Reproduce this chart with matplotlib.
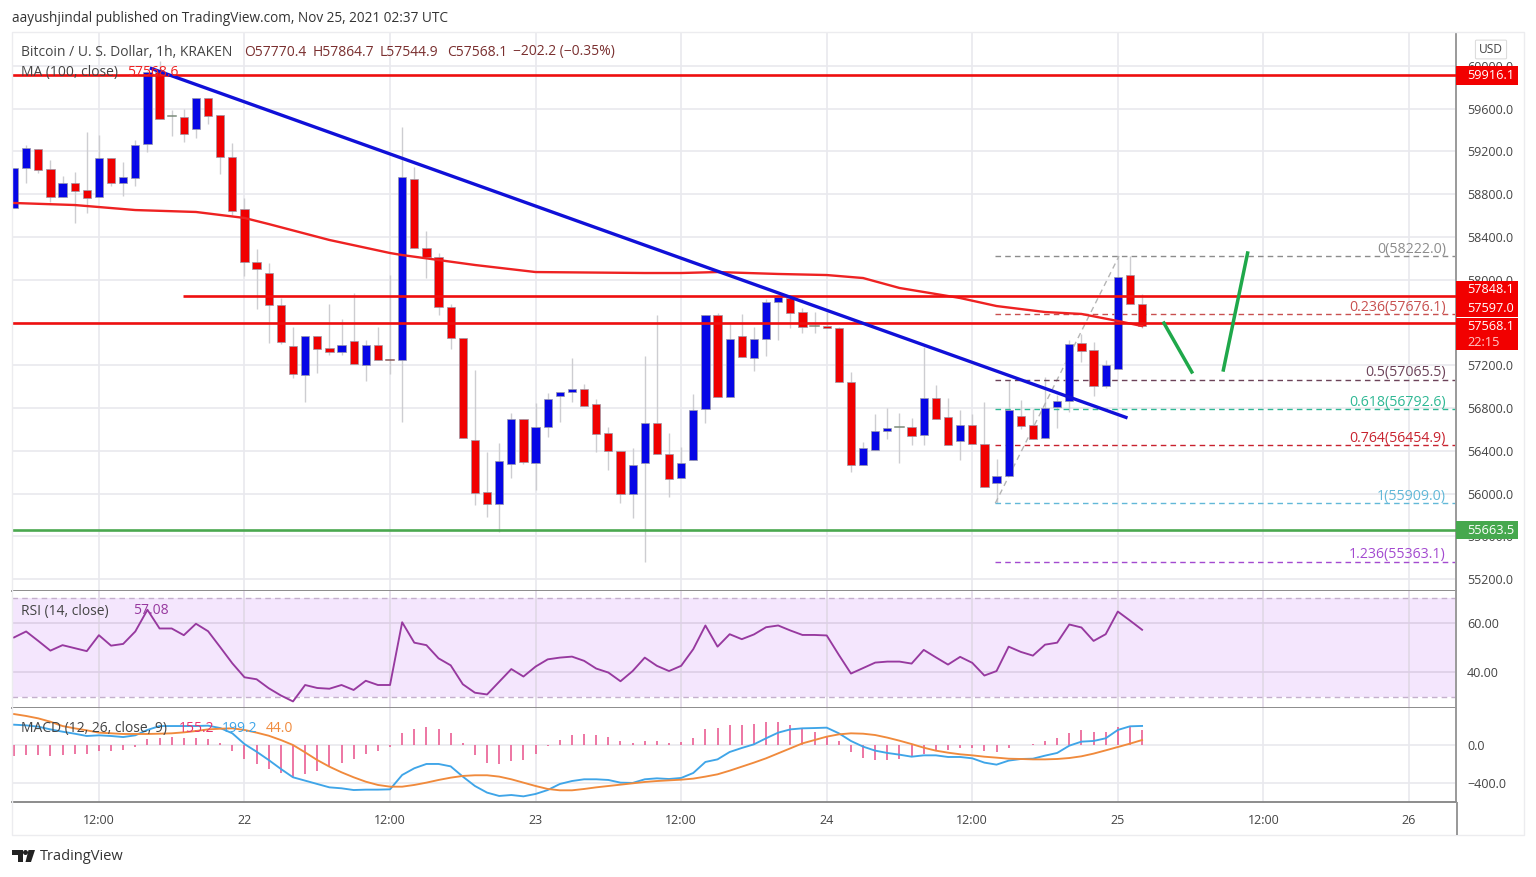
import matplotlib
matplotlib.use("Agg")
import matplotlib.pyplot as plt
from matplotlib.patches import Rectangle, FancyBboxPatch, Ellipse, Polygon
from matplotlib.transforms import blended_transform_factory

# ---------- data ----------
opens = [58674,59045,59223,59033,58777,58905,58840,58771,59142,58908,58955,59273,59946,59530,59525,59410,59700,59538,59148,58659,
         58169,58063,57761,57380,57106,57477,57359,57324,57430,57202,57392,57250,57246,58942,58300,58210,57748,57458,56501,56014,
         55905,56273,56700,56288,56620,56912,56950,56981,56840,56569,56398,55998,56288,56657,56370,56145,56311,56788,57667,56906,
         57474,57265,57446,57792,57829,57695,57570,57570,57549,57046,56264,56410,56582,56620,56620,56545,56897,56716,56494,56641,
         56463,56101,56164,56728,56641,56517,56809,56863,57405,57343,57009,57165,58042,57770]
closes = [59048,59230,59029,58777,58905,58830,58767,59142,58908,58958,59258,59946,59507,59525,59366,59700,59535,59148,58646,58166,
          58098,57761,57420,57121,57477,57355,57324,57392,57209,57392,57246,57245,58964,58297,58213,57748,57458,56517,56008,55905,
          56302,56700,56295,56620,56884,56950,56981,56819,56554,56398,55998,56264,56657,56370,56139,56288,56781,57667,56906,57446,
          57274,57446,57792,57836,57692,57561,57560,57546,57046,56270,56429,56588,56613,56612,56541,56891,56700,56457,56641,56463,
          56064,56161,56781,56632,56513,56803,56863,57399,57333,57009,57202,58028,57770,57568]
highs = [59048,59261,59223,59120,58973,59011,59379,59354,59142,59104,59307,59950,60049,59588,59595,59700,59700,59538,59282,58762,
         58288,58154,57829,57561,57477,57477,57773,57630,57873,57436,57561,58044,59429,59058,58456,58247,57773,57458,57156,56391,
         56476,56753,56700,56847,56943,56950,57271,57022,56881,56620,56398,56423,57289,57670,56569,56438,56931,57667,57689,57608,
         57680,57561,57817,57836,57860,57736,57701,57701,57560,57140,56485,56741,56797,56751,56709,57374,57015,56897,56781,56741,
         56859,56320,57062,56875,56788,57093,56922,57436,57492,57420,57249,58216,58222,57864]
lows = [58674,58908,59000,58730,58777,58534,58622,58771,58880,58786,58880,59198,59507,59345,59286,59323,59454,58992,58606,58038,
        57729,57405,57400,57078,56853,57130,57300,57296,57209,57056,57246,57118,56672,58297,58019,57670,57352,56517,55893,55783,
        55643,56142,56280,56033,56526,56672,56853,56819,56386,56220,55909,55768,55362,56370,55970,56145,56311,56657,56906,56906,
        57274,57149,57289,57436,57549,57502,57499,57546,57046,56204,56264,56410,56507,56283,56454,56454,56700,56457,56314,56463,
        56064,55909,56164,56601,56513,56517,56610,56766,57233,56915,56987,57165,57770,57544]

ma_idx = [0,5,10,15,19,21,26,31,32,38,43,52,55,58,63,67,70,73,78,81,85,88,91,93]
ma_vals = [58718,58699,58652,58634,58578,58521,58372,58250,58231,58138,58072,58063,58063,58072,58054,58044,58016,57923,57829,57754,57698,57680,57614,57567]

rsi_vals = [54.0,56.4,52.6,48.7,50.9,49.7,48.5,54.9,50.7,51.4,56.4,65.1,57.6,57.6,54.9,59.5,56.5,50.1,43.6,38.0,
            37.2,33.6,30.7,28.3,34.9,33.7,33.4,34.9,32.9,36.6,34.9,34.9,60.1,51.9,50.9,45.6,42.8,35.2,31.8,31.1,
            36.2,41.3,38.3,42.3,45.2,45.9,46.3,44.6,41.5,39.9,36.4,40.5,45.9,42.6,40.5,42.6,49.3,58.8,50.3,55.3,
            53.3,55.2,58.1,58.8,56.8,55.0,55.0,54.8,47.0,39.5,41.7,43.9,44.3,44.3,43.5,49.0,46.0,43.1,46.2,43.8,
            38.7,40.5,50.3,48.2,46.7,51.1,51.9,59.2,58.0,52.6,55.3,64.4,60.8,57.08]

macd_vals = [212,205,191,163,139,118,94,101,94,83,101,157,198,198,198,198,202,177,122,10,
             -70,-157,-250,-337,-372,-407,-442,-452,-470,-466,-466,-463,-313,-243,-198,-198,-223,-330,-428,-497,
             -532,-522,-536,-511,-470,-407,-376,-358,-358,-365,-393,-396,-358,-348,-355,-344,-292,-177,-150,-73,
             -31,7,70,129,163,174,177,181,122,42,-17,-59,-83,-101,-122,-108,-108,-125,-125,-139,
             -184,-205,-163,-146,-143,-111,-83,-7,35,42,70,157,195,199]
signal_vals = [323,303,278,243,198,174,153,129,122,115,115,115,118,122,132,146,163,170,174,157,
               129,97,52,0,-77,-157,-226,-285,-337,-383,-417,-435,-435,-417,-393,-365,-341,-323,-316,-316,
               -330,-358,-393,-428,-459,-473,-473,-459,-442,-428,-414,-400,-386,-376,-369,-362,-351,-330,-306,-268,
               -226,-184,-139,-87,-35,17,52,87,111,122,118,104,77,45,10,-28,-59,-80,-97,-108,
               -122,-132,-143,-146,-150,-150,-146,-136,-118,-90,-56,-21,14,52]
hist_vals = [-111,-104,-104,-111,-104,-94,-94,-63,-63,-52,-24,63,77,80,73,73,63,17,-63,-146,
             -202,-250,-292,-337,-306,-271,-230,-184,-143,-94,-59,-24,122,167,191,170,129,17,-104,-184,
             -198,-163,-157,-94,-14,52,101,118,104,80,38,21,38,38,17,31,70,167,177,209,
             209,219,237,237,209,167,136,97,42,-77,-132,-157,-157,-150,-122,-94,-63,-52,-35,-35,
             -59,-70,-28,-3,10,45,70,129,153,136,136,184,191,155]

h_levels = [59916.1, 57848.1, 57597.0]
h_starts = [-0.165, 13.9, -0.165]
support_level = 55663.5
trend_x = [11.2, 91.8]
trend_y = [59981, 56707]
arrow1_x = [94.8, 97.1]
arrow1_y = [57595, 57137]
arrow2_x = [99.7, 101.7]
arrow2_y = [57156, 58250]
fib_levels = [58222.0, 57676.1, 57065.5, 56792.6, 56454.9, 55909.0, 55363.1]
fib_names = ["0", "0.236", "0.5", "0.618", "0.764", "1", "1.236"]
fib_colors = ["#8c8c8c", "#c8504f", "#6b4258", "#2fb894", "#c8222e", "#62b8d8", "#a34ad0"]
fib_diag_x = [80.9, 91.1]
fib_diag_y = [55909, 58222]
time_ticks = [7, 19, 31, 43, 55, 67, 79, 91, 103, 115]
time_labels = ["12:00", "22", "12:00", "23", "12:00", "24", "12:00", "25", "12:00", "26"]
price_ticks = [55200 + 400 * i for i in range(13)]

# ---------- layout ----------
W, H = 1536, 877
plt.rcParams['font.family'] = ['Open Sans', 'DejaVu Sans']
fig = plt.figure(figsize=(W / 100, H / 100), dpi=100, facecolor='white')

def pane(t, b, l=12, r=1456):
    return fig.add_axes([l / W, 1 - b / H, (r - l) / W, (b - t) / H])

def py(y):
    return 60617 - y * 9.355

ax = pane(33, 591)
ar = pane(591, 708.3)
am = pane(708.3, 802)
XL = (-0.165, 118.88)
GRID = '#e9e9ee'
TXT = '#444444'
for a in (ax, ar, am):
    a.set_xlim(*XL)
    a.set_xticks(time_ticks)
    a.grid(True, color=GRID, lw=1.2, zorder=0)
    a.set_axisbelow(True)
    a.yaxis.tick_right()
    a.tick_params(length=0, labelsize=9, labelcolor=TXT, pad=8)
    for s in a.spines.values():
        s.set_visible(False)
    a.spines['right'].set_visible(True)
    a.spines['right'].set_color('#9a9a9a')
    a.spines['right'].set_linewidth(1.4)
    a.spines['bottom'].set_visible(True)
    a.spines['bottom'].set_color('#8c8c8c')
    a.spines['bottom'].set_linewidth(1.4)

# main pane
ax.set_ylim(py(591), py(33))
ax.set_yticks(price_ticks)
ax.set_yticklabels(["" if p == 57600 else f"{p:.1f}" for p in price_ticks])
ax.tick_params(labelbottom=False)

BLUE, RED = '#0606e6', '#f00000'
for i, (o, c, hi, lo) in enumerate(zip(opens, closes, highs, lows)):
    ax.plot([i, i], [lo, hi], color='#cdcdd1', lw=1.0, zorder=2, solid_capstyle='butt')
    col = BLUE if c >= o else RED
    if abs(c - o) < 15:
        ax.plot([i - 0.34, i + 0.34], [o, o], color='#7a8a7a' if i != 31 else '#8a5a5a', lw=1.1, zorder=3)
    else:
        ax.bar(i, abs(c - o), bottom=min(o, c), width=0.68, color=col, edgecolor='#9a9aa8', linewidth=0.5, zorder=3)

ax.plot(ma_idx, ma_vals, color='#ee2222', lw=1.7, zorder=4)

for lv, st in zip(h_levels, h_starts):
    ax.plot([st, XL[1]], [lv, lv], color='#ee0f0f', lw=1.9, zorder=5, solid_capstyle='butt')
ax.axhline(support_level, color='#4aa84f', lw=1.9, zorder=5)
ax.plot(trend_x, trend_y, color='#1010d8', lw=2.4, zorder=6, solid_capstyle='butt')
ax.plot(arrow1_x, arrow1_y, color='#1fa84a', lw=2.5, zorder=6)
ax.plot(arrow2_x, arrow2_y, color='#1fa84a', lw=2.5, zorder=6)

ax.plot(fib_diag_x, fib_diag_y, color='#b5b5b5', lw=1, ls=(0, (4, 3)), zorder=2.5)
for name, lv, col in zip(fib_names, fib_levels, fib_colors):
    ax.plot([80.9, 118.8], [lv, lv], color=col, lw=1, ls=(0, (4, 3)), zorder=2.5)
    ax.annotate(f"{name}({lv:.1f})", xy=(118.05, lv), xytext=(0, -0.5), textcoords='offset points',
                ha='right', va='bottom', fontsize=10.2, color=col, zorder=7)

# price tags
tr = blended_transform_factory(ax.transAxes, ax.transData)
def tag(p_top, p_bot, col):
    ax.add_patch(FancyBboxPatch((1.0, p_bot), 62 / 1444, p_top - p_bot, transform=tr, facecolor=col,
                                edgecolor='none', clip_on=False, zorder=8,
                                boxstyle="square,pad=0"))
def tag_text(p, s, col='white'):
    ax.text(1 + 11 / 1444, p, s, transform=tr, color=col, fontsize=9.2, va='center', ha='left',
            clip_on=False, zorder=9, fontweight='medium')

tag(py(66), py(84.5), '#f20000')
tag_text(py(75.5), "59916.1")
tag(py(280.5), py(316.5), '#f20000')
tag_text(py(289.5), "57848.1")
tag_text(py(308), "57597.0")
tag(py(318), py(350), '#f20000')
tag_text(py(326.5), "57568.1")
tag_text(py(342), "22:15", col='#ffc8c8')
tag(py(521), py(539), '#46a84e')
tag_text(py(530.5), "55663.5")

# RSI pane
ar.set_ylim(60 - (708.3 - 622.5) / 2.49, 60 + (622.5 - 591) / 2.49)
ar.axhspan(30, 70, color='#f4e6fd', zorder=0.5, lw=0)
for v in (30, 70):
    ar.axhline(v, color='#c4b0cc', lw=1, ls=(0, (4, 3)), zorder=1)
ar.set_yticks([40, 60])
ar.set_yticklabels(["40.00", "60.00"])
ar.grid(True, color='#dccfe6', lw=1.2, axis='y', zorder=1)
ar.grid(True, color='#e0d8e6', lw=1.2, axis='x', zorder=1)
ar.tick_params(labelbottom=False)
ar.plot(range(len(rsi_vals)), rsi_vals, color='#97399f', lw=1.35, zorder=3)

# MACD pane
am.set_ylim(-(802 - 745) / 0.0958, (745 - 708.3) / 0.0958)
am.set_yticks([-400, 0])
am.set_yticklabels(["\u2212400.0", "0.0"])
am.set_xticklabels(time_labels)
am.tick_params(axis='x', labelsize=9, labelcolor=TXT, pad=9)
am.vlines(range(len(hist_vals)), 0, hist_vals, color='#ea5f93', lw=1.2, zorder=2)
am.plot(range(len(macd_vals)), macd_vals, color='#3fa5e8', lw=1.35, zorder=3)
am.plot(range(len(signal_vals)), signal_vals, color='#f08a3c', lw=1.35, zorder=3)

# frame
fig.add_artist(Rectangle((12 / W, 1 - 835 / H), (1524 - 12) / W, (835 - 32) / H, transform=fig.transFigure,
                         fill=False, edgecolor='#ececef', lw=1))
fig.add_artist(Rectangle((1456 / W, 1 - 835 / H), 0.0012, 33 / H, transform=fig.transFigure,
                         facecolor='#9a9a9a', edgecolor='none'))

def T(x, y, s, color=TXT, size=10, **k):
    fig.text(x / W, 1 - (y + 1) / H, s, color=color, fontsize=size, va='center', ha=k.pop('ha', 'left'), zorder=20, **k)

T(12, 17.5, "aayushjindal published on TradingView.com, Nov 25, 2021 02:37 UTC", color='#333333', size=9.8)
T(21, 51, "Bitcoin / U. S. Dollar, 1h, KRAKEN")
dark = '#7a2f2f'
for x, s in zip((244, 313, 380, 447, 513), ("O57770.4", "H57864.7", "L57544.9", "C57568.1", "\u2212202.2 (\u22120.35%)")):
    T(x, 51, s, color=dark)
T(21, 71.5, "MA (100, close)")
T(127, 71.5, "57568.6", color='#ee2222')
T(21, 610, "RSI (14, close)")
T(133, 610, "57.08", color='#97399f')
T(21, 727.5, "MACD (12, 26, close, 9)")
T(179, 727.5, "155.2", color='#e8336f')
T(222, 727.5, "199.2", color='#3fa5e8')
T(266, 727.5, "44.0", color='#f08a3c')

# USD button
fig.add_artist(FancyBboxPatch((1477 / W, 1 - 58 / H), 28 / W, 17 / H, boxstyle="round,pad=0.001",
                              transform=fig.transFigure, facecolor='white', edgecolor='#dddddd', lw=0.8, zorder=19))
T(1491, 48.5, "USD", size=8.6, ha='center')

# TradingView logo
ink = '#222222'
fig.add_artist(Polygon([(x / W, 1 - y / H) for x, y in [(12, 850), (23, 850), (23, 862), (17.5, 862), (17.5, 855), (12, 855)]],
                       transform=fig.transFigure, facecolor=ink, edgecolor='none'))
fig.add_artist(Ellipse((25.5 / W, 1 - 852.5 / H), 5 / W, 5 / H, transform=fig.transFigure, facecolor=ink, edgecolor='none'))
fig.add_artist(Polygon([(x / W, 1 - y / H) for x, y in [(28.5, 850), (35, 850), (31, 862), (25.5, 862)]],
                       transform=fig.transFigure, facecolor=ink, edgecolor='none'))
T(40, 856, "TradingView", color='#333333', size=10.5)

fig.savefig("out.png", dpi=100, facecolor='white')
